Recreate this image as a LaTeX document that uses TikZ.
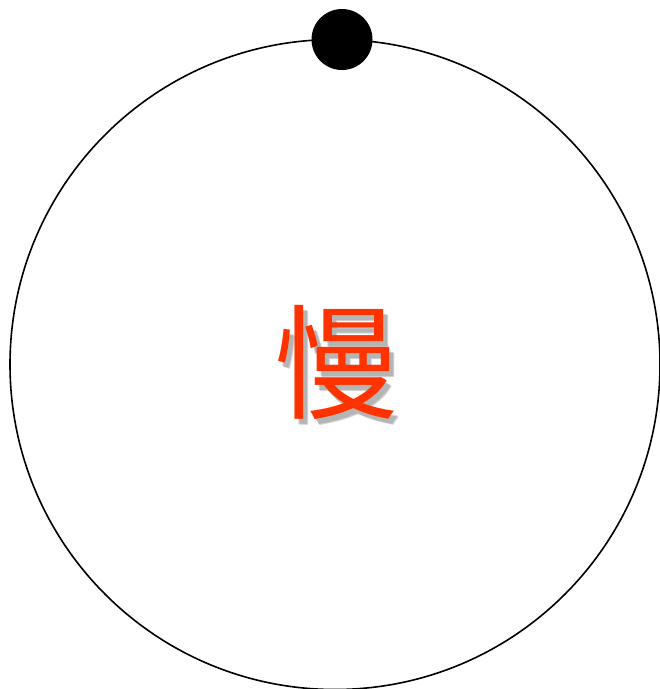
\documentclass[tikz,border=0pt]{standalone}
\usepackage{fontspec}
\newfontfamily\cjk{Noto Sans CJK SC}
\definecolor{glyphred}{HTML}{FF3300}
\tikzset{
  ring/.style={draw=black, line width=1.6pt},
  knob/.style={fill=black},
  glyph/.style={text=glyphred, font=\cjk\fontsize{124}{124}\selectfont, inner sep=0pt},
  glyphshadow/.style={text=black!45, opacity=0.4, font=\cjk\fontsize{124}{124}\selectfont, inner sep=0pt}
}
\begin{document}
\begin{tikzpicture}[x=1pt,y=-1pt]
\useasboundingbox (0,0) rectangle (660,689);
\draw[ring] (335,364.5) circle (325);
\fill[knob] (342,39.5) circle (30.5);
\node[glyphshadow] (s1) at (340,367) {慢};
\node[glyphshadow] (s2) at (341.5,368.5) {慢};
\node[glyph] (t) at (336,362.5) {慢};
\end{tikzpicture}
\end{document}
